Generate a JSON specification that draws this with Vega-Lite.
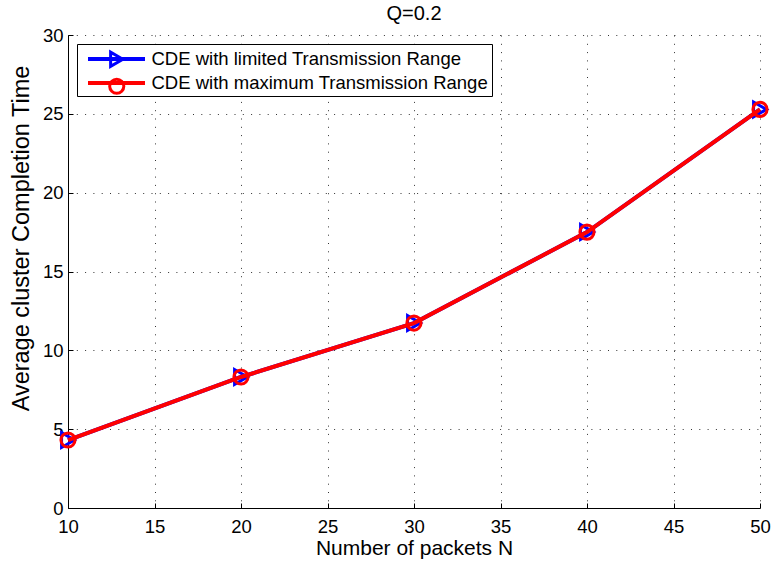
{
  "$schema": "https://vega.github.io/schema/vega-lite/v6.json",
  "width": 692,
  "height": 473,
  "autosize": {"type": "none"},
  "padding": {"left": 68, "top": 35, "right": 12, "bottom": 53},
  "background": "white",
  "config": {"view": {"stroke": null}, "font": "Liberation Sans"},
  "title": {"text": "Q=0.2", "fontSize": 20, "fontWeight": "normal", "font": "Liberation Sans", "color": "black", "offset": 2},
  "data": {
    "values": [
      {"N": 10, "time": 4.31, "series": "CDE with limited Transmission Range", "marker": "limited"},
      {"N": 20, "time": 8.31, "series": "CDE with limited Transmission Range", "marker": "limited"},
      {"N": 30, "time": 11.73, "series": "CDE with limited Transmission Range", "marker": "limited"},
      {"N": 40, "time": 17.5, "series": "CDE with limited Transmission Range", "marker": "limited"},
      {"N": 50, "time": 25.28, "series": "CDE with limited Transmission Range", "marker": "limited"},
      {"N": 10, "time": 4.31, "series": "CDE with maximum Transmission Range", "marker": "maximum"},
      {"N": 20, "time": 8.31, "series": "CDE with maximum Transmission Range", "marker": "maximum"},
      {"N": 30, "time": 11.73, "series": "CDE with maximum Transmission Range", "marker": "maximum"},
      {"N": 40, "time": 17.5, "series": "CDE with maximum Transmission Range", "marker": "maximum"},
      {"N": 50, "time": 25.28, "series": "CDE with maximum Transmission Range", "marker": "maximum"}
    ]
  },
  "encoding": {
    "x": {
      "field": "N", "type": "quantitative",
      "scale": {"domain": [10, 50], "nice": false, "zero": false},
      "axis": {
        "title": "Number of packets N",
        "values": [10, 15, 20, 25, 30, 35, 40, 45, 50],
        "grid": true, "gridColor": "black", "gridDash": [1, 7.3], "gridOpacity": 0.8, "gridWidth": 1,
        "domainColor": "black", "domainWidth": 1, "tickColor": "black", "tickSize": -5,
        "labelFontSize": 18.5, "labelColor": "black", "labelPadding": 14, "labelFlush": false,
        "titleFontSize": 21, "titleFontWeight": "normal", "titleColor": "black", "titlePadding": 2
      }
    },
    "y": {
      "field": "time", "type": "quantitative",
      "scale": {"domain": [0, 30], "nice": false},
      "axis": {
        "title": "Average cluster Completion Time",
        "values": [0, 5, 10, 15, 20, 25, 30],
        "grid": true, "gridColor": "black", "gridDash": [1, 7.3], "gridOpacity": 0.8, "gridWidth": 1,
        "domainColor": "black", "domainWidth": 1, "tickColor": "black", "tickSize": -5,
        "labelFontSize": 18.5, "labelColor": "black", "labelPadding": 10, "labelFlush": false,
        "titleFontSize": 23.5, "titleFontWeight": "normal", "titleColor": "black", "titlePadding": 9, "titleY": 203
      }
    }
  },
  "layer": [
    {
      "transform": [{"filter": "datum.series == 'CDE with limited Transmission Range'"}],
      "mark": {"type": "line", "strokeWidth": 4},
      "encoding": {
        "color": {
          "field": "series", "type": "nominal",
          "scale": {"domain": ["CDE with limited Transmission Range", "CDE with maximum Transmission Range"], "range": ["#0000ff", "#ff0000"]},
          "legend": {
            "title": null, "orient": "none", "legendX": 9, "legendY": 9, "padding": 3, "rowPadding": 2,
            "strokeColor": "black", "fillColor": "white", "cornerRadius": 0,
            "symbolType": "M-2.85,0H2.85", "symbolSize": 400, "symbolStrokeWidth": 4, "symbolOffset": 24.5,
            "labelOffset": 23, "labelFontSize": 18.5, "labelColor": "black", "labelLimit": 600, "zindex": 1
          }
        }
      }
    },
    {
      "transform": [{"filter": "datum.series == 'CDE with limited Transmission Range'"}],
      "mark": {"type": "point", "filled": false, "strokeWidth": 3, "size": 220, "opacity": 1},
      "encoding": {
        "stroke": {
          "field": "marker", "type": "nominal",
          "scale": {"domain": ["limited", "maximum"], "range": ["#0000ff", "#ff0000"]},
          "legend": {
            "title": null, "orient": "none", "legendX": 9, "legendY": 12, "padding": 3, "rowPadding": 0,
            "symbolSize": 200, "symbolStrokeWidth": 3, "symbolOffset": 27.5, "symbolFillColor": "transparent",
            "labelFontSize": 18.5, "labelExpr": "''", "zindex": 2
          }
        },
        "shape": {
          "field": "marker", "type": "nominal",
          "scale": {"domain": ["limited", "maximum"], "range": ["triangle-right", "circle"]},
          "legend": {
            "title": null, "orient": "none", "legendX": 9, "legendY": 12, "padding": 3, "rowPadding": 0,
            "symbolSize": 200, "symbolStrokeWidth": 3, "symbolOffset": 27.5, "symbolFillColor": "transparent",
            "labelFontSize": 18.5, "labelExpr": "''", "zindex": 2
          }
        }
      }
    },
    {
      "transform": [{"filter": "datum.series == 'CDE with maximum Transmission Range'"}],
      "mark": {"type": "line", "strokeWidth": 4},
      "encoding": {"color": {"field": "series", "type": "nominal"}}
    },
    {
      "transform": [{"filter": "datum.series == 'CDE with maximum Transmission Range'"}],
      "mark": {"type": "point", "filled": false, "strokeWidth": 3, "size": 200, "opacity": 1},
      "encoding": {
        "stroke": {"field": "marker", "type": "nominal"},
        "shape": {"field": "marker", "type": "nominal"}
      }
    }
  ]
}
